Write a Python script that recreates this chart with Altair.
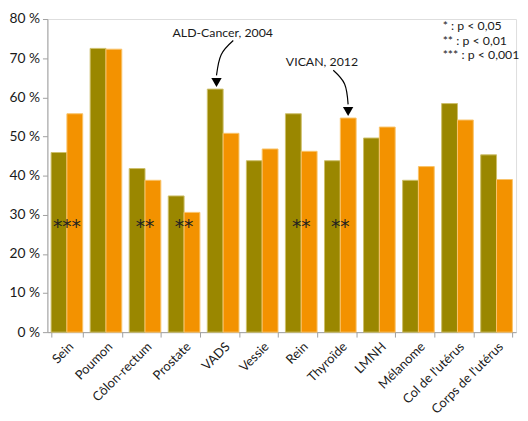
import altair as alt
import pandas as pd

categories = ["Sein", "Poumon", "Côlon-rectum", "Prostate", "VADS", "Vessie",
              "Rein", "Thyroïde", "LMNH", "Mélanome", "Col de l'utérus", "Corps de l'utérus"]
series = ["ALD-Cancer, 2004", "VICAN, 2012"]
ald_2004 = [45.9, 72.5, 41.8, 34.8, 62.1, 43.8, 55.8, 43.8, 49.6, 38.8, 58.4, 45.3]
vican_2012 = [55.8, 72.3, 38.8, 30.6, 50.8, 46.8, 46.2, 54.7, 52.4, 42.3, 54.2, 39.0]
signif = ["***", "", "**", "**", "", "", "**", "**", "", "", "", ""]
star_level = 27.9
y_ticks = [0, 10, 20, 30, 40, 50, 60, 70, 80]

# annotations (x in category units 0..12, y in %)
ann_labels = ["ALD-Cancer, 2004", "VICAN, 2012"]
ann_label_x = [4.49, 7.03]
ann_label_y = [76.4, 69.1]
arrow_id = ["a", "a", "a", "b", "b", "b"]
arrow_x = [4.76, 4.45, 4.33, 7.32, 7.61, 7.70]
arrow_y = [74.5, 70.9, 65.6, 66.9, 63.4, 58.2]
head_x = [4.33, 7.70]
head_y = [63.8, 56.4]
note_lines = ["* : p < 0,05", "** : p < 0,01", "*** : p < 0,001"]
note_x = [10.12, 10.12, 10.12]
note_y = [78.3, 74.5, 70.7]

rows = []
for i, c in enumerate(categories):
    rows.append({"cat": c, "serie": series[0], "val": ald_2004[i]})
    rows.append({"cat": c, "serie": series[1], "val": vican_2012[i]})
bars_df = pd.DataFrame(rows)
stars_df = pd.DataFrame({"cat": categories, "txt": signif, "y": [star_level] * len(categories)})
stars_df = stars_df[stars_df.txt != ""]
ann_df = pd.DataFrame({"txt": ann_labels, "x": ann_label_x, "y": ann_label_y})
arrow_df = pd.DataFrame({"id": arrow_id, "x": arrow_x, "y": arrow_y, "o": list(range(len(arrow_x)))})
head_df = pd.DataFrame({"x": head_x, "y": head_y})
note_df = pd.DataFrame({"txt": note_lines, "x": note_x, "y": note_y})

FONT = "Lato"
x_band = alt.X("cat:N", sort=categories, title=None,
               scale=alt.Scale(paddingInner=0.19, paddingOuter=0.095),
               axis=alt.Axis(labelAngle=-45, labelAlign="right", labelBaseline="top",
                             labelPadding=3, labelFontSize=13, labelColor="#1a1a1a",
                             labelFont=FONT, tickBand="extent", tickSize=5,
                             tickColor="#a0a0a0", domainColor="#a0a0a0", labelOverlap=False))
y_scale = alt.Scale(domain=[0, 80], nice=False)
y_axis = alt.Axis(values=y_ticks, labelExpr="datum.value + ' %'", grid=False,
                  tickSize=5, tickColor="#a0a0a0", domainColor="#a0a0a0",
                  labelFontSize=14, labelColor="#1a1a1a", labelFont=FONT,
                  labelPadding=3, labelOverlap=False)

bars = alt.Chart(bars_df).mark_bar(strokeWidth=1).encode(
    x=x_band,
    xOffset=alt.XOffset("serie:N", sort=series, scale=alt.Scale(paddingInner=0, paddingOuter=0)),
    y=alt.Y("val:Q", scale=y_scale, title=None, axis=y_axis),
    color=alt.Color("serie:N", sort=series, legend=None,
                    scale=alt.Scale(domain=series, range=["#9a8700", "#f39200"])),
    stroke=alt.Stroke("serie:N", sort=series, legend=None,
                      scale=alt.Scale(domain=series, range=["#cdbf6a", "#f9c36a"])),
)

stars = alt.Chart(stars_df).mark_text(font="DejaVu Sans", fontSize=19, color="#222222",
                                      baseline="middle", dy=4).encode(
    x=alt.X("cat:N", sort=categories, scale=alt.Scale(paddingInner=0.19, paddingOuter=0.095)),
    y=alt.Y("y:Q", scale=y_scale, title=None, axis=y_axis),
    text="txt:N",
)

base = alt.layer(bars, stars)

xq = alt.Scale(domain=[0, 12], nice=False, zero=False)
ann_text = alt.Chart(ann_df).mark_text(font=FONT, fontSize=12.5, color="#1a1a1a",
                                       baseline="middle", align="center").encode(
    x=alt.X("x:Q", scale=xq, axis=None),
    y=alt.Y("y:Q", scale=y_scale, title=None, axis=y_axis),
    text="txt:N",
)
arrows = alt.Chart(arrow_df).mark_line(interpolate="cardinal", color="#000000", strokeWidth=1.2).encode(
    x=alt.X("x:Q", scale=xq, axis=None),
    y=alt.Y("y:Q", scale=y_scale, title=None, axis=y_axis),
    detail="id:N",
    order="o:Q",
)
heads = alt.Chart(head_df).mark_point(shape="triangle-down", filled=True, color="#000000",
                                      size=110, opacity=1).encode(
    x=alt.X("x:Q", scale=xq, axis=None),
    y=alt.Y("y:Q", scale=y_scale, title=None, axis=y_axis),
)
notes = alt.Chart(note_df).mark_text(font=FONT, fontSize=12.5, color="#1a1a1a",
                                     baseline="middle", align="left").encode(
    x=alt.X("x:Q", scale=xq, axis=None),
    y=alt.Y("y:Q", scale=y_scale, title=None, axis=y_axis),
    text="txt:N",
)
over = alt.layer(ann_text, arrows, heads, notes)

chart = alt.layer(base, over).resolve_scale(
    x="independent"
).properties(
    width=476, height=318,
    autosize=alt.AutoSizeParams(type="none"),
    padding={"left": 40, "top": 8, "right": 4, "bottom": 85},
).configure_view(stroke=None).configure(background="#ffffff")

chart.save("out.html", embed_options={"renderer": "svg", "actions": False})
